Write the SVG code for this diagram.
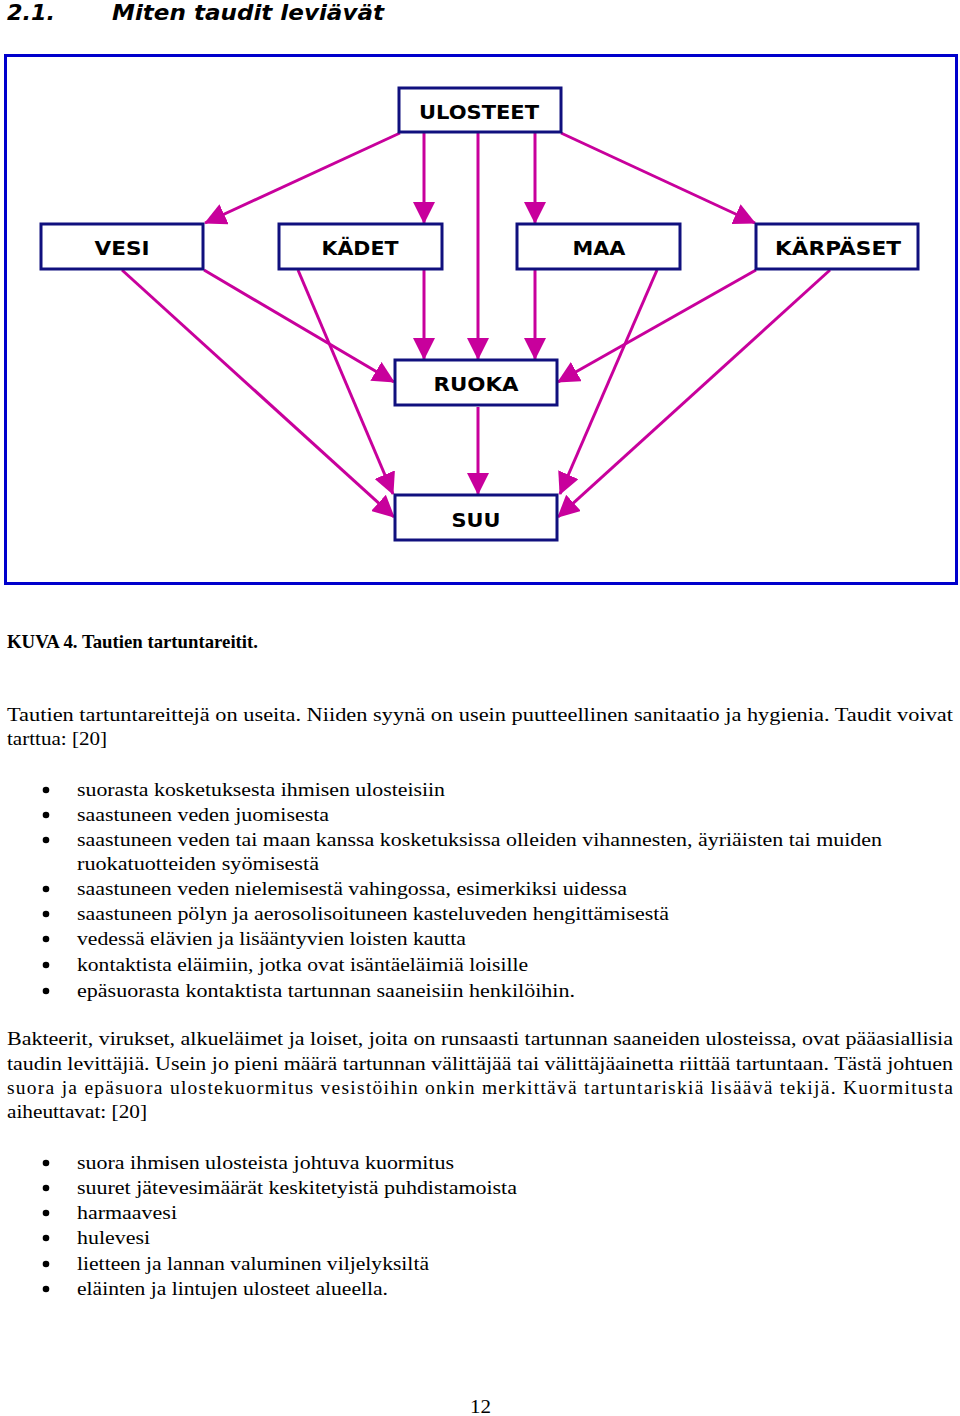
<svg xmlns="http://www.w3.org/2000/svg" width="960" height="1416" viewBox="0 0 960 1416">
<style>
.box{fill:#fff;stroke:#10107e;stroke-width:3}
.lbl{font-family:"DejaVu Sans","Liberation Sans",sans-serif;font-weight:bold;font-size:19px;fill:#000;text-anchor:middle}
.con{stroke:#c8009c;stroke-width:3;fill:none;marker-end:url(#ah)}
.t{font-family:"Liberation Serif",serif;font-size:19.5px;fill:#000}
.h{font-family:"DejaVu Sans","Liberation Sans",sans-serif;font-weight:bold;font-style:italic;font-size:21px;fill:#000}
</style>
<defs>
<marker id="ah" markerUnits="userSpaceOnUse" markerWidth="22" markerHeight="22" viewBox="0 0 22 22" refX="21" refY="11" orient="auto">
<path d="M0,0 L22,11 L0,22 z" fill="#c8009c"/>
</marker>
</defs>
<rect width="960" height="1416" fill="#fff"/>
<text class="h" x="7" y="20" textLength="48" lengthAdjust="spacingAndGlyphs">2.1.</text>
<text class="h" x="112" y="20" textLength="272" lengthAdjust="spacingAndGlyphs">Miten taudit leviävät</text>
<rect x="5.5" y="55.5" width="951" height="528" fill="none" stroke="#0000cc" stroke-width="3"/>
<g id="connectors">
<line class="con" x1="400" y1="133" x2="205" y2="223"/>
<line class="con" x1="424" y1="133" x2="424" y2="223"/>
<line class="con" x1="478" y1="133" x2="478" y2="359"/>
<line class="con" x1="535" y1="133" x2="535" y2="223"/>
<line class="con" x1="561" y1="133" x2="755" y2="223"/>
<line class="con" x1="204" y1="270" x2="394" y2="382"/>
<line class="con" x1="424" y1="270" x2="424" y2="359"/>
<line class="con" x1="535" y1="270" x2="535" y2="359"/>
<line class="con" x1="756" y1="270" x2="558" y2="382"/>
<line class="con" x1="122" y1="270" x2="394" y2="517"/>
<line class="con" x1="298" y1="270" x2="393" y2="494"/>
<line class="con" x1="478" y1="407" x2="478" y2="494"/>
<line class="con" x1="657" y1="270" x2="560" y2="494"/>
<line class="con" x1="830" y1="270" x2="558" y2="517"/>
</g>
<g id="ulosteet"><rect class="box" x="399" y="88" width="162" height="44"/><text class="lbl" x="479" y="119" textLength="120" lengthAdjust="spacingAndGlyphs">ULOSTEET</text></g>
<g id="vesi"><rect class="box" x="41" y="224" width="162" height="45"/><text class="lbl" x="122" y="255" textLength="55" lengthAdjust="spacingAndGlyphs">VESI</text></g>
<g id="kadet"><rect class="box" x="279" y="224" width="163" height="45"/><text class="lbl" x="360" y="255" textLength="77" lengthAdjust="spacingAndGlyphs">KÄDET</text></g>
<g id="maa"><rect class="box" x="517" y="224" width="163" height="45"/><text class="lbl" x="599" y="255" textLength="53" lengthAdjust="spacingAndGlyphs">MAA</text></g>
<g id="karpaset"><rect class="box" x="756" y="224" width="162" height="45"/><text class="lbl" x="838" y="255" textLength="126" lengthAdjust="spacingAndGlyphs">KÄRPÄSET</text></g>
<g id="ruoka"><rect class="box" x="395" y="360" width="162" height="45"/><text class="lbl" x="476" y="391" textLength="85" lengthAdjust="spacingAndGlyphs">RUOKA</text></g>
<g id="suu"><rect class="box" x="395" y="495" width="162" height="45"/><text class="lbl" x="476" y="527" textLength="49" lengthAdjust="spacingAndGlyphs">SUU</text></g>
<text class="t" x="7" y="648" font-weight="bold" textLength="251" lengthAdjust="spacingAndGlyphs">KUVA 4. Tautien tartuntareitit.</text>
<text class="t" x="7" y="721" textLength="946" lengthAdjust="spacingAndGlyphs">Tautien tartuntareittejä on useita. Niiden syynä on usein puutteellinen sanitaatio ja hygienia.  Taudit voivat</text>
<text class="t" x="7" y="745" textLength="100" lengthAdjust="spacingAndGlyphs">tarttua: [20]</text>
<g fill="#000">
<circle cx="46" cy="790" r="3.3"/><circle cx="46" cy="815" r="3.3"/><circle cx="46" cy="840" r="3.3"/><circle cx="46" cy="889" r="3.3"/><circle cx="46" cy="914" r="3.3"/><circle cx="46" cy="939" r="3.3"/><circle cx="46" cy="965" r="3.3"/><circle cx="46" cy="991" r="3.3"/>
<circle cx="46" cy="1163" r="3.3"/><circle cx="46" cy="1188" r="3.3"/><circle cx="46" cy="1213" r="3.3"/><circle cx="46" cy="1238" r="3.3"/><circle cx="46" cy="1264" r="3.3"/><circle cx="46" cy="1289" r="3.3"/>
</g>
<text class="t" x="77" y="796" textLength="368" lengthAdjust="spacingAndGlyphs">suorasta kosketuksesta ihmisen ulosteisiin</text>
<text class="t" x="77" y="821" textLength="252" lengthAdjust="spacingAndGlyphs">saastuneen veden juomisesta</text>
<text class="t" x="77" y="846" textLength="805" lengthAdjust="spacingAndGlyphs">saastuneen veden tai maan kanssa kosketuksissa olleiden vihannesten, äyriäisten tai muiden</text>
<text class="t" x="77" y="870" textLength="242" lengthAdjust="spacingAndGlyphs">ruokatuotteiden syömisestä</text>
<text class="t" x="77" y="895" textLength="550" lengthAdjust="spacingAndGlyphs">saastuneen veden nielemisestä vahingossa, esimerkiksi uidessa</text>
<text class="t" x="77" y="920" textLength="592" lengthAdjust="spacingAndGlyphs">saastuneen pölyn ja aerosolisoituneen kasteluveden hengittämisestä</text>
<text class="t" x="77" y="945" textLength="389" lengthAdjust="spacingAndGlyphs">vedessä elävien ja lisääntyvien loisten kautta</text>
<text class="t" x="77" y="971" textLength="451" lengthAdjust="spacingAndGlyphs">kontaktista eläimiin, jotka ovat isäntäeläimiä loisille</text>
<text class="t" x="77" y="997" textLength="498" lengthAdjust="spacingAndGlyphs">epäsuorasta kontaktista tartunnan saaneisiin henkilöihin.</text>
<text class="t" x="7" y="1045" textLength="946" lengthAdjust="spacingAndGlyphs">Bakteerit, virukset, alkueläimet ja loiset, joita on runsaasti tartunnan saaneiden ulosteissa, ovat pääasiallisia</text>
<text class="t" x="7" y="1070" textLength="946" lengthAdjust="spacingAndGlyphs">taudin levittäjiä. Usein jo pieni määrä tartunnan välittäjää tai välittäjäainetta riittää tartuntaan. Tästä johtuen</text>
<text class="t" x="7" y="1094" textLength="946" lengthAdjust="spacing">suora ja epäsuora ulostekuormitus vesistöihin onkin merkittävä tartuntariskiä lisäävä tekijä. Kuormitusta</text>
<text class="t" x="7" y="1118" textLength="140" lengthAdjust="spacingAndGlyphs">aiheuttavat: [20]</text>
<text class="t" x="77" y="1169" textLength="377" lengthAdjust="spacingAndGlyphs">suora ihmisen ulosteista johtuva kuormitus</text>
<text class="t" x="77" y="1194" textLength="440" lengthAdjust="spacingAndGlyphs">suuret jätevesimäärät keskitetyistä puhdistamoista</text>
<text class="t" x="77" y="1219" textLength="100" lengthAdjust="spacingAndGlyphs">harmaavesi</text>
<text class="t" x="77" y="1244" textLength="73" lengthAdjust="spacingAndGlyphs">hulevesi</text>
<text class="t" x="77" y="1270" textLength="352" lengthAdjust="spacingAndGlyphs">lietteen ja lannan valuminen viljelyksiltä</text>
<text class="t" x="77" y="1295" textLength="311" lengthAdjust="spacingAndGlyphs">eläinten ja lintujen ulosteet alueella.</text>
<text class="t" x="470" y="1413" textLength="21" lengthAdjust="spacingAndGlyphs">12</text>
</svg>
